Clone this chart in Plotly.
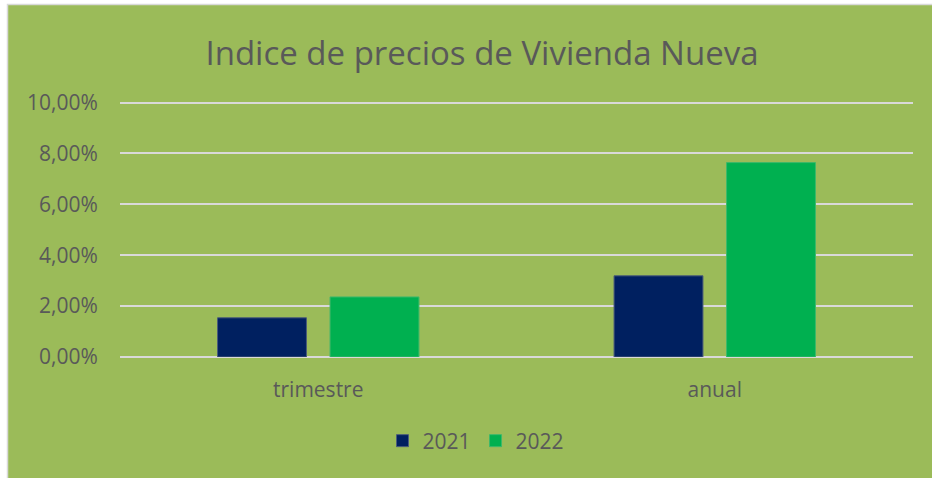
import plotly.graph_objects as go

# Dati
categorie = ["trimestre", "anual"]
valori_2021 = [0.0154, 0.0319]
valori_2022 = [0.0236, 0.0764]
tick_valori = [0, 0.02, 0.04, 0.06, 0.08, 0.10]

VERDE_SFONDO = "#9BBB59"
GRIGIO_TESTO = "#595959"
GRIGLIA = "#D9D9D9"
FONT = "Open Sans"

W, H = 932, 478
Y_MAX = 0.1006  # un po' sopra il 10% per non perdere l'ultima griglia

# Area del grafico in pixel: x 120..913, 0% a y=357, 10% a y=103
T = 103 - round(254 * (Y_MAX - 0.10) / 0.10)
L, R, B = 120, W - 913, H - 357

# Conversione pixel -> coordinate paper
def px_x(px):
    return (px - L) / (W - L - R)

def px_y(py):
    return (H - B - py) / (H - B - T)

fig = go.Figure()
fig.add_trace(go.Bar(x=categorie, y=valori_2021, name="2021",
                     marker=dict(color="#002060", line=dict(color="#4A5C7A", width=1))))
fig.add_trace(go.Bar(x=categorie, y=valori_2022, name="2022",
                     marker=dict(color="#00B050", line=dict(color="#3DB86A", width=1))))

# Sfondo verde con bordo grigio (sopra e a sinistra)
fig.add_shape(type="rect", xref="paper", yref="paper",
              x0=px_x(7.5), x1=px_x(945), y0=px_y(490), y1=px_y(4.5),
              fillcolor=VERDE_SFONDO, line=dict(color=GRIGLIA, width=1.5), layer="below")

fig.update_layout(
    width=W, height=H,
    margin=dict(l=L, r=R, t=T, b=B),
    paper_bgcolor="white",
    plot_bgcolor=VERDE_SFONDO,
    separators=",.",
    barmode="group",
    bargap=0.4325,
    bargroupgap=0.21,
    font=dict(family=FONT, color=GRIGIO_TESTO, size=21),
    title=dict(text="Indice de precios de Vivienda Nueva",
               x=482 / W, xanchor="center",
               y=1 - 53 / H, yanchor="middle",
               font=dict(family=FONT, size=33, color=GRIGIO_TESTO)),
    legend=dict(orientation="h", x=px_x(476), xanchor="center", y=px_y(441), yanchor="middle",
                font=dict(size=21, color=GRIGIO_TESTO), bgcolor="rgba(0,0,0,0)",
                itemwidth=30, traceorder="normal"),
    showlegend=True,
)
fig.update_xaxes(showgrid=False, showline=False, zeroline=False,
                 ticks="outside", ticklen=14, tickcolor="rgba(0,0,0,0)",
                 tickfont=dict(size=21, color=GRIGIO_TESTO))
fig.update_yaxes(range=[0, Y_MAX], tickvals=tick_valori, tickformat=".2%",
                 showgrid=True, gridcolor=GRIGLIA, gridwidth=1.5,
                 zeroline=True, zerolinecolor=GRIGLIA, zerolinewidth=1.5,
                 showline=False, ticks="outside", ticklen=17, tickcolor="rgba(0,0,0,0)",
                 tickfont=dict(size=21, color=GRIGIO_TESTO))

# niente margine della pagina: la figura occupa tutta la finestra
fig.write_html("out.html", config={"displayModeBar": False},
               post_script="document.body.style.margin='0';document.body.style.overflow='hidden';")
